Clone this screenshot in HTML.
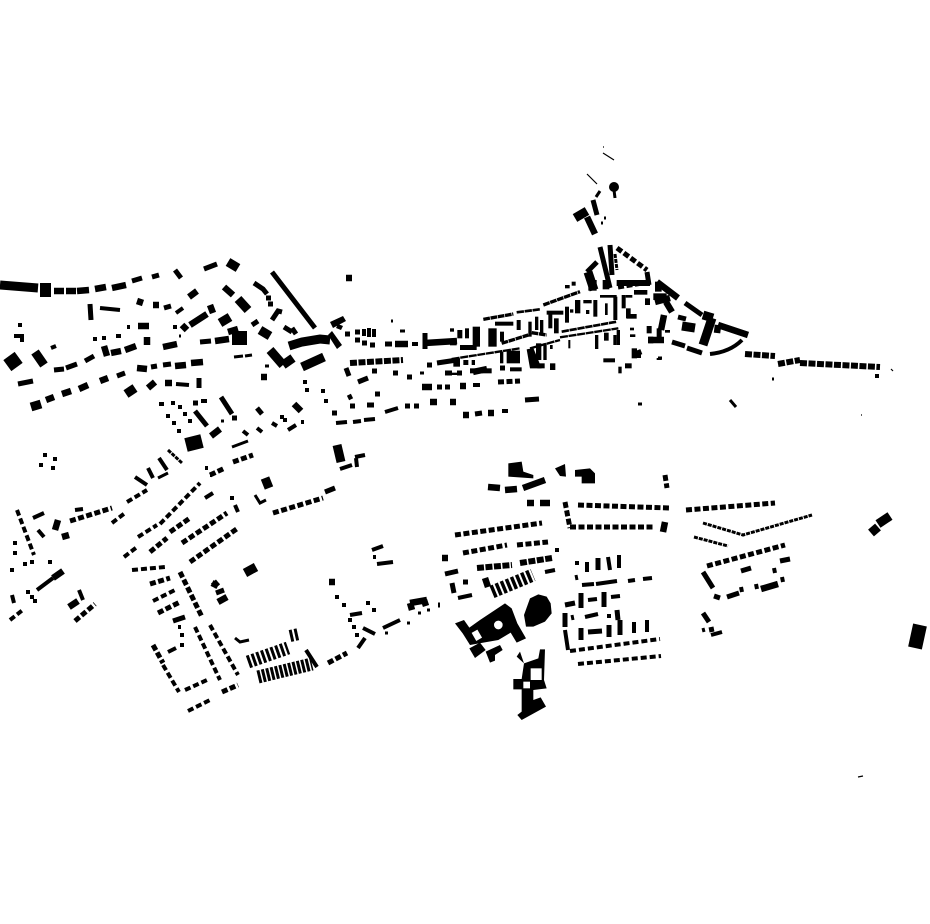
<!DOCTYPE html>
<html><head><meta charset="utf-8"><style>html,body{margin:0;padding:0;background:#fff}svg{display:block}</style></head>
<body>
<svg width="930" height="924" viewBox="0 0 930 924" xmlns="http://www.w3.org/2000/svg" fill="none" stroke="#000">
<!-- thin -->
<path stroke-width="1.2" d="M603 153L614 160M603 147h1M587 174L597 184M858 777L863 776M891 369L893 371M861 415h1"/>
<circle cx="614" cy="187" r="5" fill="#000" stroke="none"/>
<path stroke-width="3" d="M614 190L615 198M596 197L600 191M604 218h2M601 223h2M179 336h2M265 366h4M221 421h3M232 447L248 441M400 331h5M391 321h2M730 400L736 407M772 379h2M658 358h4M703 628l1 4M572 615l1 5M576 575l1 5M418 613h3M427 610h3M385 633h3M407 623h3M255 495L260 503L266 500M235 638L240 642L249 640M158 478L168 473M234 357L243 356M245 356L252 355M420 373h4M638 404h4"/>
<!-- w4 -->
<path stroke-width="4" d="M18 325h4M14 336H22V342M51 348L56 346M33 518L44 513M38 530L44 537M75 510L83 509M176 384L189 385M100 308L120 310M176 313L183 308M173 327h4M116 336h5M102 338h4M93 339h4M159 404h5M171 403h4M178 407h4M183 414h4M188 421h4M166 416h4M172 423h4M177 431h4M201 401H207M288 430L296 425M301 422h3M303 382h4M305 390h4M321 391h4M324 401h4M280 417h4M283 420h4M272 423L277 426M257 428L262 432M243 431L248 435M127 327h3M135 477L147 485M148 468L153 478M159 458L167 470M205 498L213 493M210 475h2M230 498h4M235 505L238 512M43 455h4M53 459h4M39 465h4M51 468h4M13 543h4M13 553h4M10 570h4M23 564h4M30 562h4M48 562h4M12 595L14 603M26 592h4M30 597h4M33 601h4M37 590L53 578M79 590L83 600M205 468h3M178 627h3M180 635h4M180 645h4M168 652L176 648M575 563h4M587 562v10M608 557l2 13M619 555v13M582 585L594 584M596 584L617 581M628 581L635 580M643 579L652 578M588 600L597 599M611 597L620 596M585 617L598 614M609 614v4M634 622v11M647 620v12M565 630L568 650M711 635L722 632M340 469L352 465M356 458L357 467M355 457L365 455M377 564L393 562M372 550L383 546M373 557h3M335 597h4M342 605h4M366 603h4M372 610h4M350 615L362 613M348 620h4M352 627h4M355 635h4M363 628L375 634M358 648L365 638M383 628L400 620M458 598L472 595M545 572L555 570M555 550h4M741 587l1 5M756 584l1 5M774 568l1 5M782 577l1 5M875 376h4M336 423L347 422M353 422L361 421M364 420L375 419M385 412L398 408M502 411h6M473 385H480M306 650L317 667M412 344h6"/>
<!-- w5 -->
<path stroke-width="5" d="M152 277L159 275M132 281L142 278M204 269L217 264M175 270L181 278M90 304L91 320M164 308L171 306M66 368L77 364M54 370L64 369M85 361L94 356M18 384L33 381M117 376L125 373M151 367L157 366M163 365L171 364M199 378V388M193 403h5M195 411L207 426M221 397L232 414M232 418h5M262 414L257 408M254 283L263 289L267 294M252 325L258 321M200 342L211 341M272 272L315 328M272 320L278 311L282 312M284 327L292 332M292 328L296 334M266 298h5M268 304h5M593 200L597 215M600 247L610 288M610 245L612 275M647 272L649 285M587 272L597 262M346 368L349 376M407 377h5M372 371h5M393 373h5M445 373H452M457 373h5M500 368h5M358 382L368 378M375 394h5M348 398L352 396M350 406h5M367 405H374M405 406h5M414 406h5M332 413h5M475 414L482 413M525 400L539 399M445 387h5M437 387h5M345 334h5M355 332h5M385 344L392 344M355 340h5M362 343h5M370 345h5M425 333V349M427 365h5M437 363L457 360M565 605L575 603M581 593V608M604 592V607M565 613V627M617 610L618 620M581 628V640M588 632L602 631M609 625V637M620 620V635M598 558V570M685 303L702 315M672 342L685 346M678 317L686 319M703 613L709 622M711 627l1 5M703 572L713 588M714 596L720 598M727 597L739 593M741 571L751 568M780 561L790 559M325 492L335 488M445 574L458 571M452 583L454 593M463 582h5M438 605h2M173 621L185 617M216 593L224 590M638 350l2 5M702 353L687 348"/>
<!-- w6-7 -->
<path stroke-width="6.5" d="M54 291H64M66 291H76M77 291L89 290M95 289L106 287M112 288L126 285M137 301L143 303M153 305H159M189 297L197 291M210 305L213 313M190 325L207 314M182 325L187 330M138 326L149 326M104 346L107 356M111 353L121 351M125 350L136 346M163 347L177 344M147 337V345M46 400L54 397M62 394L71 391M79 389L88 385M100 381L108 378M137 368L147 369M175 366L186 365M191 363L203 362M148 388L155 382M165 383L172 383M261 377h6M224 287L233 295M228 332L238 329M215 341L229 339M587 217L595 234M664 315L661 330M648 340L664 340M657 282L678 298M655 302L670 298M666 302L672 312M346 278h6M527 503L534 503M540 503L550 503M442 558h6M485 578L488 587M473 372L487 369M460 386H466M422 387L432 387M430 402h7M450 402h6M463 415h6M488 413h6M329 582h6M718 325L748 335M718 325L717 333M761 589L778 584M488 487L500 488M505 490L517 489M523 488L545 480M665 522L663 532M410 603L427 600M410 603L412 610M424 600L426 606M212 583L218 586M213 586L218 582M218 602L227 597M69 607L78 601M211 436L220 429M62 537L69 535M53 578L63 571M58 520L55 530M294 404L301 411M395 344H408M425 343L457 341"/>
<!-- wide -->
<path stroke-width="9" d="M0 285L38 288M31 407L41 404M35 352L44 365M126 394L135 388M220 323L230 317M238 299L248 310M260 330L270 336M270 350L283 365M283 365L293 358M289 346L302 342L320 339L330 340M228 262L238 268M302 367L324 357M575 218L587 211M588 272L594 290M682 326L695 328M703 315L713 318M712 318L703 345M878 524L890 516M871 533L878 527M337 445L341 462M265 478L269 488M245 573L256 567"/>
<path stroke-width="14" d="M40 290H51M232 338H247M9 356L17 367M186 445L202 441M920 625L915 648"/>
<!-- dashed rows -->
<path stroke-width="4" stroke-dasharray="6 3" d="M17 510L34 555M124 557L137 547M138 537L157 525M160 524L200 483M132 570L165 567M153 601L175 590M10 620L24 609M112 523L125 513M185 690L207 680M188 711L212 699M163 665L179 692M570 651L660 639M578 664L661 656M195 627L220 680M210 625L238 675M127 502L147 490"/>
<path stroke-width="5" stroke-dasharray="6 2.5" d="M182 543L227 513M190 562L238 528M233 462L253 455M150 584L170 578M158 613L180 602M180 572L202 617M222 692L238 685M153 645L163 663M565 502L570 528M578 505L670 508M570 527L655 527M665 475L667 488M455 535L542 523M463 553L507 545M517 545L548 542M686 510L775 503M328 663L347 653M707 566L785 545M150 552L167 538M170 532L190 518M273 513L323 498M70 521L112 508M75 621L95 604M210 475L225 468M498 382L520 381M617 248L647 270M618 287L649 282"/>
<path stroke-width="6" stroke-dasharray="7 1.5" d="M477 568L512 565M520 563L552 558M350 363L403 360M745 354L775 356M778 364L800 360M800 363L880 367"/>
<path stroke-width="3" stroke-dasharray="4 1" d="M703 523L743 535L812 515M694 537L728 546M168 450L182 463M615 254L617 270"/>
<path stroke-width="13" stroke-dasharray="3.5 2" d="M492 592L533 575"/>
<path stroke-width="13" stroke-dasharray="3 2" d="M248 662L288 648"/>
<path stroke-width="13" stroke-dasharray="3 1.5" d="M258 677L312 664"/>
<path stroke-width="12" stroke-dasharray="3 2" d="M290 636L299 634"/>
<!-- arc -->
<path stroke-width="4" d="M710 354Q730 352 742 340"/>
<!-- old town west -->
<g fill="#000" stroke="none">
<path d="M330 322L343 316L346 321L333 328ZM328 335L332 331L342 345L337 349ZM338 324L343 326L341 330L336 328Z"/>
<rect x="362" y="329" width="4" height="7"/><rect x="367" y="328" width="4" height="9"/><rect x="372" y="329" width="4" height="8"/>
</g>
<!-- old town core, traced in 3x crop coordinates -->
<g transform="translate(450 280) scale(.33333)">
<path stroke-width="10" stroke-dasharray="20 2" d="M100 118L190 102M280 75L390 35M155 190L235 165M245 158L290 165"/>
<path stroke-width="8" stroke-dasharray="22 2" d="M200 97L270 88M335 155L500 125"/>
<path stroke-width="7" stroke-dasharray="24 2" d="M5 237L210 205M240 205L330 180M330 172L505 145"/>
<g fill="#000" stroke="none">
<rect x="345" y="15" width="14" height="10"/><rect x="365" y="5" width="12" height="12"/>
<rect x="415" y="0" width="25" height="32"/><rect x="458" y="0" width="20" height="28"/><rect x="500" y="0" width="100" height="18"/>
<rect x="0" y="178" width="20" height="18"/><rect x="0" y="145" width="12" height="10"/><rect x="22" y="150" width="15" height="25"/>
<rect x="45" y="145" width="12" height="30"/><rect x="68" y="140" width="22" height="60"/><rect x="30" y="195" width="50" height="15"/>
<rect x="115" y="145" width="25" height="55"/><rect x="135" y="125" width="55" height="12"/><rect x="150" y="155" width="12" height="30"/>
<rect x="200" y="120" width="12" height="30"/><rect x="235" y="125" width="10" height="45"/><rect x="255" y="110" width="10" height="40"/><rect x="270" y="120" width="10" height="40"/>
<rect x="290" y="92" width="50" height="12"/><rect x="295" y="100" width="12" height="45"/><rect x="312" y="115" width="14" height="45"/>
<rect x="345" y="80" width="12" height="48"/><rect x="360" y="88" width="10" height="10"/><rect x="375" y="60" width="16" height="40"/>
<rect x="400" y="60" width="25" height="10"/><rect x="408" y="90" width="10" height="12"/><rect x="430" y="60" width="12" height="50"/>
<rect x="450" y="45" width="50" height="8"/><rect x="490" y="50" width="12" height="70"/><rect x="465" y="70" width="8" height="35"/>
<rect x="355" y="180" width="6" height="25"/><rect x="435" y="165" width="10" height="42"/><rect x="462" y="158" width="14" height="24"/><rect x="490" y="165" width="10" height="30"/><rect x="500" y="150" width="10" height="45"/>
<rect x="10" y="235" width="20" height="25"/><rect x="40" y="240" width="15" height="15"/><rect x="65" y="240" width="10" height="15"/><rect x="150" y="215" width="10" height="35"/><rect x="170" y="212" width="40" height="38"/><rect x="180" y="262" width="35" height="12"/>
<rect x="60" y="265" width="30" height="15"/><rect x="95" y="265" width="30" height="15"/><rect x="0" y="278" width="25" height="7"/>
<path d="M230 208L250 204L275 265H240Z"/><rect x="258" y="190" width="16" height="50"/><rect x="280" y="190" width="10" height="50"/><rect x="300" y="195" width="8" height="12"/><rect x="300" y="250" width="16" height="20"/><rect x="262" y="250" width="22" height="15"/>
<rect x="460" y="235" width="35" height="12"/><rect x="545" y="205" width="16" height="30"/><rect x="555" y="222" width="18" height="12"/><rect x="505" y="260" width="10" height="20"/><rect x="525" y="250" width="20" height="15"/><rect x="620" y="234" width="15" height="6"/>
<rect x="515" y="45" width="12" height="40"/><rect x="527" y="45" width="20" height="8"/><rect x="528" y="85" width="14" height="30"/><rect x="530" y="102" width="30" height="14"/>
<rect x="552" y="30" width="40" height="14"/><rect x="585" y="55" width="15" height="20"/>
<rect x="540" y="143" width="12" height="8"/><rect x="540" y="163" width="16" height="8"/><rect x="590" y="138" width="15" height="22"/><rect x="595" y="170" width="15" height="20"/><rect x="620" y="145" width="15" height="40"/><rect x="645" y="150" width="15" height="8"/>
<rect x="615" y="5" width="20" height="30"/><rect x="610" y="40" width="40" height="20"/>
</g>
</g>
<!-- south complex -->
<g transform="translate(320 450) scale(.33333)" fill="#000" stroke="none">
<path d="M405 520L432 510L448 533L480 510L555 460L575 475L592 520L618 565L590 578L572 548L535 570L490 578L450 585L428 550Z"/>
<path d="M448 595L480 578L497 600L465 624Z"/>
<path d="M497 605L540 585L548 600L525 615L525 632L510 638Z"/>
<path d="M630 445L655 433L680 440L692 460L695 490L675 515L640 530L618 530L612 495Z"/>
<path d="M590 620L600 605L612 640L655 625L660 598L675 598L672 690L680 715L640 720L640 750L662 742L678 770L605 810L592 795L605 785L605 718H580V687H605L612 640Z"/>
<path d="M565 40L605 35L610 65L640 75L640 85L565 80Z"/>
<path d="M705 55L735 42L738 80L720 78ZM765 60L810 55L825 70L825 100L785 100V80L765 80Z"/>
<circle cx="535" cy="525" r="13" fill="#fff"/>
<rect x="460" y="542" width="20" height="28" fill="#fff" transform="rotate(-30 470 555)"/>
<rect x="632" y="655" width="33" height="35" fill="#fff"/>
<rect x="610" y="695" width="20" height="20" fill="#fff"/>
</g>
</svg>
</body></html>
